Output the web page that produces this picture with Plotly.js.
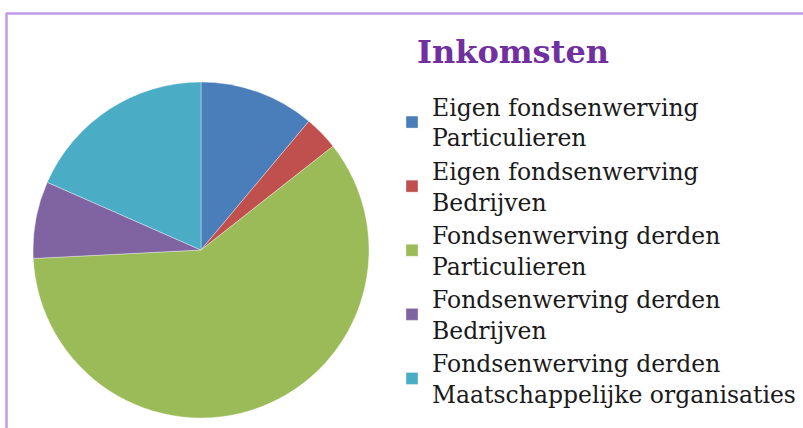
<!DOCTYPE html>
<html>
<head>
<meta charset="utf-8">
<script src="https://cdn.plot.ly/plotly-3.0.1.min.js"></script>
<style>html,body{margin:0;padding:0;background:#fff;}#chart{width:803px;height:428px;}</style>
</head>
<body>
<div id="chart"></div>
<script>
const categories = [
  "Eigen fondsenwerving<br>Particulieren",
  "Eigen fondsenwerving<br>Bedrijven",
  "Fondsenwerving derden<br>Particulieren",
  "Fondsenwerving derden<br>Bedrijven",
  "Fondsenwerving derden<br>Maatschappelijke organisaties"
];
const values = [11.1, 3.3, 59.8, 7.4, 18.4];
const colors = ["#4a7ebb", "#c0504d", "#9bbb59", "#8064a2", "#4bacc6"];
const chartTitle = "Inkomsten";

const W = 803, H = 428;
const cx = 201, cy = 250, r = 168;

const trace = {
  type: "pie",
  labels: categories,
  values: values,
  sort: false,
  direction: "clockwise",
  rotation: 0,
  textinfo: "none",
  hoverinfo: "label+percent",
  marker: { colors: colors, line: { color: "rgba(255,255,255,0.6)", width: 0.6 } },
  domain: { x: [(cx - r) / W, (cx + r) / W], y: [1 - (cy + r) / H, 1 - (cy - r) / H] }
};

const layout = {
  width: W, height: H,
  margin: { l: 0, r: 0, t: 0, b: 0 },
  paper_bgcolor: "#ffffff",
  title: {
    text: "<b>" + chartTitle + "</b>",
    font: { family: "DejaVu Serif", size: 32, color: "#7030a0" },
    x: 417 / W, xanchor: "left",
    y: 1 - 52 / H, yanchor: "middle"
  },
  showlegend: true,
  legend: {
    x: 392 / W, xanchor: "left",
    y: 1 - 85 / H, yanchor: "top",
    font: { family: "DejaVu Serif", size: 23.5, color: "#1a1a1a" },
    bgcolor: "rgba(0,0,0,0)",
    itemclick: false
  },
  shapes: [
    { type: "line", xref: "paper", yref: "paper", x0: 6 / W, x1: 1, y0: 1 - 13.5 / H, y1: 1 - 13.5 / H,
      line: { color: "#bf9ae6", width: 2.5 } },
    { type: "line", xref: "paper", yref: "paper", x0: 6.5 / W, x1: 6.5 / W, y0: 1 - 13 / H, y1: 0,
      line: { color: "#bf9ae6", width: 2.5 } }
  ]
};

Plotly.newPlot("chart", [trace], layout, { displayModeBar: false, staticPlot: true });
</script>
</body>
</html>
